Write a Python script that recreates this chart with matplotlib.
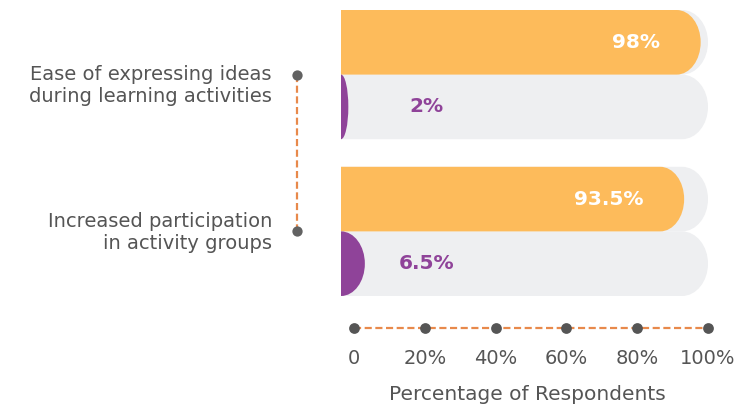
import matplotlib
matplotlib.use("Agg")
import matplotlib.pyplot as plt
from matplotlib.path import Path
from matplotlib.patches import PathPatch
from matplotlib.transforms import blended_transform_factory, ScaledTranslation

# ---- data ----
categories = ["Ease of expressing ideas\nduring learning activities",
              "Increased participation\nin activity groups"]
yes_values = [98, 93.5]
no_values = [2, 6.5]
yes_labels = ["98%", "93.5%"]
no_labels = ["2%", "6.5%"]
x_ticks = [0, 20, 40, 60, 80, 100]
x_tick_labels = ["0", "20%", "40%", "60%", "80%", "100%"]
x_title = "Percentage of Respondents"

# ---- style ----
ORANGE = "#FDBB5B"
PURPLE = "#8F4399"
TRACK = "#EEEFF1"
DASH = "#E8894B"
DOT = "#626262"
TEXT = "#555555"
FONT = "DejaVu Sans"

W, H = 739, 405
fig = plt.figure(figsize=(W / 100, H / 100), dpi=100)

# bar area in pixels
bx0, bx1 = 341, 708
by0, by1 = 10, 296
ax = fig.add_axes([bx0 / W, (H - by1) / H, (bx1 - bx0) / W, (by1 - by0) / H])
half = 0.412
ax.set_xlim(0, 100)
ax.set_ylim(1 + half, -half)
ax.axis("off")

px_per_x = (bx1 - bx0) / 100.0
KAPPA = 0.5523


def round_bar(ax, y_center, height, width, color, r_px=24, z=2):
    """Horizontal bar starting at 0 with elliptically rounded right end."""
    rx = min(r_px / px_per_x, width)
    ry = height / 2.0
    top = y_center - height / 2.0
    bot = y_center + height / 2.0
    x1 = width
    verts = [
        (0, top),
        (x1 - rx, top),
        (x1 - rx + rx * KAPPA, top), (x1, top + ry - ry * KAPPA), (x1, top + ry),
        (x1, bot - ry + ry * KAPPA), (x1 - rx + rx * KAPPA, bot), (x1 - rx, bot),
        (0, bot),
        (0, top),
    ]
    codes = [Path.MOVETO, Path.LINETO,
             Path.CURVE4, Path.CURVE4, Path.CURVE4,
             Path.CURVE4, Path.CURVE4, Path.CURVE4,
             Path.LINETO, Path.CLOSEPOLY]
    ax.add_patch(PathPatch(Path(verts, codes), facecolor=color,
                           edgecolor="none", zorder=z))


sub_h = half
for i in range(len(categories)):
    y_yes = i - sub_h / 2
    y_no = i + sub_h / 2
    round_bar(ax, y_yes, sub_h, 100, TRACK, r_px=26, z=1)
    round_bar(ax, y_no, sub_h, 100, TRACK, r_px=26, z=1)
    round_bar(ax, y_yes, sub_h, yes_values[i], ORANGE, z=2)
    round_bar(ax, y_no, sub_h, no_values[i], PURPLE, z=2)
    ax.text(yes_values[i] - 11, y_yes, yes_labels[i], ha="right", va="center",
            color="white", fontsize=14.5, fontweight="bold", family=FONT, zorder=3)
    ax.text(23.3, y_no, no_labels[i], ha="center", va="center",
            color=PURPLE, fontsize=14.5, fontweight="bold", family=FONT, zorder=3)

# category axis: dashed spine with dots at category centres
bt = blended_transform_factory(ax.transAxes, ax.transData)
spine_x = (297 - bx0) / (bx1 - bx0)
ypos = list(range(len(categories)))
ax.plot([spine_x] * len(ypos), ypos, transform=bt, color=DASH, lw=1.6,
        dashes=(3.2, 1.6), clip_on=False, zorder=1)
ax.scatter([spine_x] * len(ypos), ypos, transform=bt, s=55, color=DOT,
           clip_on=False, zorder=4, linewidths=0)
label_x = (272 - bx0) / (bx1 - bx0)
nudge_px = [11, 1]
for i, cat in enumerate(categories):
    tr = bt + ScaledTranslation(0, -nudge_px[i] / 100, fig.dpi_scale_trans)
    ax.text(label_x, i, cat, transform=tr, ha="right", va="center",
            color=TEXT, fontsize=14, family=FONT, linespacing=1.2)

# value axis: dashed line with dots at ticks
ax2 = fig.add_axes([354 / W, (H - 338) / H, (708 - 354) / W, 20 / H])
ax2.set_xlim(0, 100)
ax2.set_ylim(-1, 1)
for s in ax2.spines.values():
    s.set_visible(False)
ax2.set_yticks([])
ax2.plot([x_ticks[0], x_ticks[-1]], [0, 0], color=DASH, lw=1.6,
         dashes=(3.2, 1.6), clip_on=False, zorder=1)
ax2.scatter(x_ticks, [0] * len(x_ticks), s=60, color="#555555",
            clip_on=False, zorder=3, linewidths=0)
ax2.set_xticks(x_ticks)
ax2.set_xticklabels(x_tick_labels, family=FONT, fontsize=14, color=TEXT)
ax2.tick_params(axis="x", length=0, pad=8)
ax2.patch.set_alpha(0)

fig.text(527 / W, 1 - 394 / H, x_title, ha="center", va="center",
         color=TEXT, fontsize=14.5, family=FONT)

fig.savefig("out.png", dpi=100)
